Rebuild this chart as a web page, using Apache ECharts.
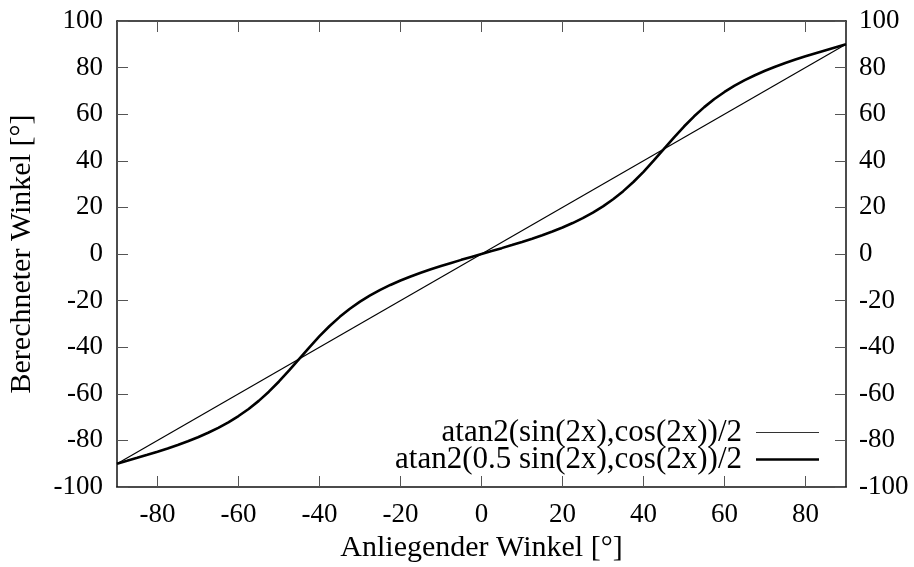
<!DOCTYPE html>
<html>
<head>
<meta charset="utf-8">
<script src="https://cdn.jsdelivr.net/npm/echarts@6/dist/echarts.min.js"></script>
<style>
  html, body { margin: 0; padding: 0; background: #fff; }
  #chart { width: 914px; height: 567px; }
</style>
</head>
<body>
<div id="chart"></div>
<script>
// tick positions
const xTicks = [-80, -60, -40, -20, 0, 20, 40, 60, 80]

// thin line: atan2(sin(2x),cos(2x))/2  (identity)
const lineX = [-90, 90]
const lineY = [-90, 90]

const curveX = [
  -90, -87.5, -85, -82.5, -80, -77.5, -75, -72.5, -70, -67.5, -65, -62.5,
  -60, -57.5, -55, -52.5, -50, -47.5, -45, -42.5, -40, -37.5, -35, -32.5,
  -30, -27.5, -25, -22.5, -20, -17.5, -15, -12.5, -10, -7.5, -5, -2.5,
  0, 2.5, 5, 7.5, 10, 12.5, 15, 17.5, 20, 22.5, 25, 27.5,
  30, 32.5, 35, 37.5, 40, 42.5, 45, 47.5, 50, 52.5, 55, 57.5,
  60, 62.5, 65, 67.5, 70, 72.5, 75, 77.5, 80, 82.5, 85, 87.5, 90
]
const curveY = [
  -90, -88.75, -87.48, -86.18, -84.84, -83.44, -81.95, -80.35, -78.62, -76.72, -74.6, -72.24,
  -69.55, -66.5, -63.03, -59.1, -54.72, -49.96, -45, -40.04, -35.28, -30.9, -26.97, -23.5,
  -20.45, -17.76, -15.4, -13.28, -11.38, -9.65, -8.05, -6.56, -5.16, -3.82, -2.52, -1.25,
  0, 1.25, 2.52, 3.82, 5.16, 6.56, 8.05, 9.65, 11.38, 13.28, 15.4, 17.76,
  20.45, 23.5, 26.97, 30.9, 35.28, 40.04, 45, 49.96, 54.72, 59.1, 63.03, 66.5,
  69.55, 72.24, 74.6, 76.72, 78.62, 80.35, 81.95, 83.44, 84.84, 86.18, 87.48, 88.75, 90
]

const seriesNames = ['atan2(sin(2x),cos(2x))/2', 'atan2(0.5 sin(2x),cos(2x))/2']

const FONT = '"Liberation Serif", "DejaVu Serif", serif'
const FS = 27
const tickStyle = { show: true, inside: true, length: 11, lineStyle: { color: '#555', width: 1 } }
const borderStyle = { show: true, onZero: false, lineStyle: { color: '#111', width: 1.5 } }

const chart = echarts.init(document.getElementById('chart'), null, { renderer: 'canvas' })

chart.setOption({
  backgroundColor: '#fff',
  animation: false,
  textStyle: { fontFamily: FONT },
  grid: { left: 117, right: 68, top: 21, bottom: 80, outerBoundsMode: 'none' },
  legend: {
    orient: 'vertical',
    right: 95,
    top: 417,
    padding: 0,
    align: 'right',
    itemWidth: 63,
    itemHeight: 14,
    itemGap: -4,
    textStyle: { fontFamily: FONT, fontSize: 31, color: '#000', padding: [0, 9, 0, 0] },
    data: [
      { name: seriesNames[0], icon: 'path://M0,0 H63 V1.2 H0 Z', itemStyle: { color: '#333' } },
      { name: seriesNames[1], icon: 'path://M0,0 H63 V2.6 H0 Z', itemStyle: { color: '#000' } },
    ],
  },
  xAxis: [
    {
      type: 'value', position: 'bottom', min: -90, max: 90,
      name: 'Anliegender Winkel [°]', nameLocation: 'middle', nameGap: 46,
      nameTextStyle: { fontFamily: FONT, fontSize: 30, color: '#000' },
      axisLine: borderStyle,
      axisTick: { ...tickStyle, customValues: xTicks },
      axisLabel: { customValues: xTicks, fontFamily: FONT, fontSize: FS, color: '#000', margin: 14 },
      splitLine: { show: false },
    },
    {
      type: 'value', position: 'top', min: -90, max: 90,
      axisLine: borderStyle,
      axisTick: { ...tickStyle, customValues: xTicks },
      axisLabel: { show: false },
      splitLine: { show: false },
    },
  ],
  yAxis: [
    {
      type: 'value', position: 'left', min: -100, max: 100, interval: 20,
      name: 'Berechneter Winkel [°]', nameLocation: 'middle', nameGap: 80,
      nameTextStyle: { fontFamily: FONT, fontSize: 30, color: '#000' },
      axisLine: borderStyle,
      axisTick: tickStyle,
      axisLabel: { fontFamily: FONT, fontSize: FS, color: '#000', margin: 14 },
      splitLine: { show: false },
    },
    {
      type: 'value', position: 'right', min: -100, max: 100, interval: 20,
      axisLine: borderStyle,
      axisTick: tickStyle,
      axisLabel: { fontFamily: FONT, fontSize: FS, color: '#000', margin: 13 },
      splitLine: { show: false },
    },
  ],
  series: [
    {
      name: seriesNames[0], type: 'line', xAxisIndex: 0, yAxisIndex: 0,
      data: lineX.map((x, i) => [x, lineY[i]]),
      symbol: 'none', color: '#000',
      lineStyle: { color: '#000', width: 1.2 },
    },
    {
      name: seriesNames[1], type: 'line', xAxisIndex: 0, yAxisIndex: 0,
      data: curveX.map((x, i) => [x, curveY[i]]),
      symbol: 'none', color: '#000',
      lineStyle: { color: '#000', width: 2.6 },
    },
  ],
})
</script>
</body>
</html>
